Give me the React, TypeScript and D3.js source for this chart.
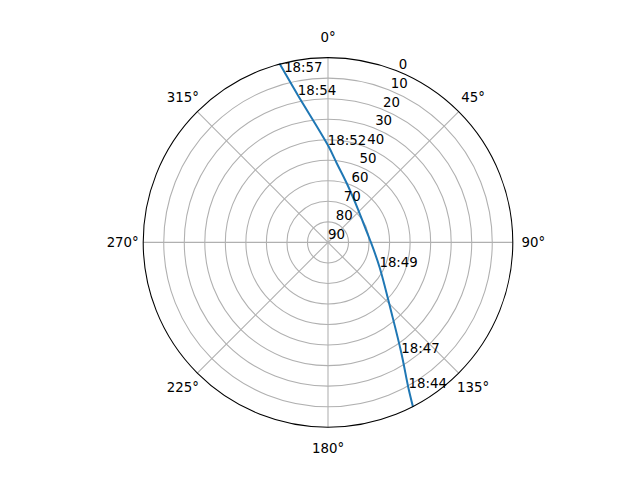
import * as d3 from 'd3'

// satellite track (azimuth deg, elevation deg), rise in SE -> set in NNW
const trackAz = [152.6, 151.1, 146.4, 138.1, 115.3, 86.7, 64.2, 43.1, 17.6, 6.3, 359.9, 348.4, 345.6, 344.9]
const trackElev = [0.3, 8.9, 25.5, 43.6, 62.3, 69.5, 70.5, 68.4, 59.8, 51.2, 42.6, 16.7, 4.1, 0.15]

// time labels placed on the track
const timeLabels = ['18:44', '18:47', '18:49', '18:52', '18:54', '18:57']
const timeAz = [151.1, 146.4, 115.3, 359.9, 348.4, 345.6]
const timeElev = [8.9, 25.5, 62.3, 42.6, 16.7, 4.1]

const thetaTicks = [0, 45, 90, 135, 180, 225, 270, 315]
const rTicks = [0, 10, 20, 30, 40, 50, 60, 70, 80, 90]

const W = 640
const H = 480
const cx = 328
const cy = 242.4
const R = 184.8
const FONT = '"DejaVu Sans", sans-serif'
const FS = 13.33

export default function App() {
  const r = d3.scaleLinear().domain([0, 90]).range([R, 0])
  const rad = (deg: number) => (deg * Math.PI) / 180
  const px = (az: number, el: number) => cx + r(el) * Math.sin(rad(az))
  const py = (az: number, el: number) => cy - r(el) * Math.cos(rad(az))

  const line = d3.lineRadial<number>()
    .angle(i => rad(trackAz[i]))
    .radius(i => r(trackElev[i]))
    .curve(d3.curveCatmullRom)
  const path = line(trackAz.map((_, i) => i)) || ''

  return (
    <svg width={W} height={H} style={{ position: 'absolute', left: 0, top: 0, background: '#fff' }}
      fontFamily={FONT} fontSize={FS}>
      <rect width={W} height={H} fill="#fff" />
      {/* radial grid circles */}
      {rTicks.filter(t => t > 0 && t < 90).map(t => (
        <circle key={t} cx={cx} cy={cy} r={r(t)} fill="none" stroke="#b0b0b0" strokeWidth={1.07} />
      ))}
      {/* angular grid lines */}
      {thetaTicks.map(t => (
        <line key={t} x1={cx} y1={cy} x2={px(t, 0)} y2={py(t, 0)} stroke="#b0b0b0" strokeWidth={1.07} />
      ))}
      {/* track */}
      <path d={path} transform={`translate(${cx},${cy})`} fill="none" stroke="#1f77b4" strokeWidth={2}
        strokeLinecap="square" />
      {/* outer spine */}
      <circle cx={cx} cy={cy} r={R} fill="none" stroke="#000" strokeWidth={1.07} />
      {/* theta labels */}
      {thetaTicks.map(t => (
        <text key={t} x={cx + (R + 20.5) * Math.sin(rad(t))} y={cy - (R + 20.5) * Math.cos(rad(t)) + 4.8}
          textAnchor="middle" fill="#000">{`${t}°`}</text>
      ))}
      {/* radial labels at 22.5° */}
      {rTicks.map(t => (
        <text key={t} x={px(22.5, t)} y={py(22.5, t) - 3.1} textAnchor="start" fill="#000">{t}</text>
      ))}
      {/* time labels */}
      {timeLabels.map((s, i) => (
        <text key={s} x={px(timeAz[i], timeElev[i])} y={py(timeAz[i], timeElev[i])} textAnchor="start" fill="#000">{s}</text>
      ))}
    </svg>
  )
}
